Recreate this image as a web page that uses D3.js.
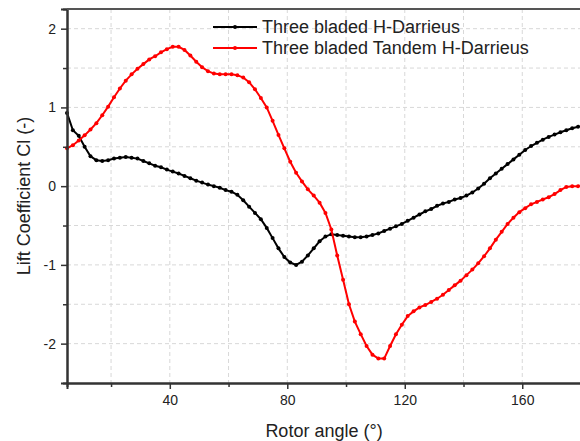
<!DOCTYPE html>
<html>
<head>
<meta charset="utf-8">
<script src="https://cdn.jsdelivr.net/npm/d3@7"></script>
<style>
  body { margin: 0; background: #fff; }
  text { font-family: Arial, "Liberation Sans", sans-serif; fill: #222; }
</style>
</head>
<body>
<div id="chart"></div>
<script>
// rotor angle samples (deg)
var angles = d3.range(5, 180, 2);

// lift coefficient, three bladed H-Darrieus
var clDarrieus = [
  0.93, 0.71, 0.64, 0.50, 0.38, 0.33, 0.32, 0.33, 0.35, 0.36,
  0.37, 0.36, 0.35, 0.32, 0.29, 0.26, 0.24, 0.21, 0.185, 0.16,
  0.13, 0.10, 0.07, 0.045, 0.02, 0.00, -0.02, -0.05, -0.07, -0.11,
  -0.18, -0.26, -0.34, -0.42, -0.53, -0.66, -0.79, -0.90, -0.97, -1.00,
  -0.96, -0.88, -0.79, -0.70, -0.64, -0.61, -0.62, -0.63, -0.64, -0.65,
  -0.65, -0.64, -0.62, -0.60, -0.57, -0.54, -0.51, -0.48, -0.44, -0.40,
  -0.36, -0.32, -0.29, -0.25, -0.22, -0.20, -0.17, -0.15, -0.12, -0.08,
  -0.03, 0.03, 0.10, 0.16, 0.22, 0.28, 0.34, 0.40, 0.46, 0.51,
  0.55, 0.59, 0.625, 0.655, 0.685, 0.71, 0.735, 0.755
];

// lift coefficient, three bladed tandem H-Darrieus
var clTandem = [
  0.48, 0.52, 0.58, 0.645, 0.72, 0.80, 0.90, 1.01, 1.13, 1.24,
  1.34, 1.42, 1.49, 1.55, 1.61, 1.65, 1.70, 1.74, 1.77, 1.77,
  1.73, 1.66, 1.58, 1.51, 1.46, 1.43, 1.42, 1.42, 1.42, 1.41,
  1.38, 1.32, 1.23, 1.12, 1.00, 0.83, 0.65, 0.48, 0.31, 0.17,
  0.06, -0.04, -0.12, -0.21, -0.34, -0.55, -0.88, -1.19, -1.50, -1.72,
  -1.88, -2.03, -2.14, -2.19, -2.19, -2.03, -1.88, -1.76, -1.65, -1.59,
  -1.54, -1.51, -1.47, -1.43, -1.38, -1.32, -1.26, -1.20, -1.13, -1.06,
  -0.98, -0.89, -0.79, -0.68, -0.58, -0.48, -0.40, -0.33, -0.28, -0.23,
  -0.20, -0.17, -0.14, -0.10, -0.05, -0.01, 0.00, 0.00
];

var xMajor = [40, 80, 120, 160];
var xMinor = [20, 60, 100, 140];
var yMajor = [-2, -1, 0, 1, 2];
var yMinor = [-1.5, -0.5, 0.5, 1.5];

var seriesNames = ["Three bladed H-Darrieus", "Three bladed Tandem H-Darrieus"];
var seriesColors = ["#000000", "#ff0000"];

var W = 580, H = 441;
var plotL = 67, plotT = 9, plotR = 581, plotB = 383;

var svg = d3.select("#chart").append("svg")
    .attr("width", W)
    .attr("height", H);

var x = d3.scaleLinear().domain([5, 180]).range([plotL, plotR]);
var y = d3.scaleLinear().domain([-2.5, 2.25]).range([plotB, plotT]);

// grid
var grid = svg.append("g").attr("stroke", "#d8d8d8").attr("stroke-dasharray", "4,3").attr("stroke-width", 1);
grid.selectAll(".gx").data(xMajor.concat(xMinor)).enter().append("line")
    .attr("x1", d => x(d)).attr("x2", d => x(d))
    .attr("y1", plotT).attr("y2", plotB);
grid.selectAll(".gy").data(yMajor.concat(yMinor)).enter().append("line")
    .attr("x1", plotL).attr("x2", plotR)
    .attr("y1", d => y(d)).attr("y2", d => y(d));

// series
var series = [clDarrieus, clTandem];
var line = d3.line()
    .x((d, i) => x(angles[i]))
    .y(d => y(d));

series.forEach(function(vals, k) {
    var g = svg.append("g");
    g.append("path")
        .datum(vals)
        .attr("fill", "none")
        .attr("stroke", seriesColors[k])
        .attr("stroke-width", 2)
        .attr("d", line);
    g.selectAll("circle").data(vals).enter().append("circle")
        .attr("cx", (d, i) => x(angles[i]))
        .attr("cy", d => y(d))
        .attr("r", 2)
        .attr("fill", seriesColors[k]);
});

// axes (plain hyphen for negatives, like the original)
var fmt = d => String(d);
var axisColor = "#333";
var xAxis = svg.append("g")
    .attr("transform", "translate(0," + plotB + ")")
    .call(d3.axisBottom(x).tickValues(xMajor).tickSize(6).tickPadding(6).tickFormat(fmt));
var xAxisMinor = svg.append("g")
    .attr("transform", "translate(0," + plotB + ")")
    .call(d3.axisBottom(x).tickValues(xMinor).tickSize(4).tickFormat(""));
var yAxis = svg.append("g")
    .attr("transform", "translate(" + plotL + ",0)")
    .call(d3.axisLeft(y).tickValues(yMajor).tickSize(6).tickPadding(5).tickFormat(fmt));
var yAxisMinor = svg.append("g")
    .attr("transform", "translate(" + plotL + ",0)")
    .call(d3.axisLeft(y).tickValues(yMinor).tickSize(4).tickFormat(""));

[xAxis, xAxisMinor, yAxis, yAxisMinor].forEach(function(a) {
    a.select(".domain").attr("stroke", axisColor).attr("stroke-width", 2);
    a.selectAll(".tick line").attr("stroke", axisColor).attr("stroke-width", 1.5);
    a.selectAll(".tick text").attr("fill", "#222").style("font-size", "14px")
        .style("font-family", "Arial, 'Liberation Sans', sans-serif");
});

// top frame
svg.append("line")
    .attr("x1", plotL).attr("x2", plotR)
    .attr("y1", y(2.25)).attr("y2", y(2.25))
    .attr("stroke", "#555").attr("stroke-width", 2);

// axis titles
svg.append("text")
    .attr("x", (plotL + plotR) / 2)
    .attr("y", 437)
    .attr("text-anchor", "middle")
    .style("font-size", "18px")
    .text("Rotor angle (°)");

svg.append("text")
    .attr("transform", "translate(30," + ((plotT + plotB) / 2) + ") rotate(-90)")
    .attr("text-anchor", "middle")
    .style("font-size", "18px")
    .text("Lift Coefficient Cl (-)");

// legend
var legend = svg.append("g");
seriesNames.forEach(function(name, k) {
    var ly = 27 + k * 21;
    legend.append("line")
        .attr("x1", 213).attr("x2", 257)
        .attr("y1", ly).attr("y2", ly)
        .attr("stroke", seriesColors[k]).attr("stroke-width", 2);
    legend.append("circle")
        .attr("cx", 235).attr("cy", ly).attr("r", 2)
        .attr("fill", seriesColors[k]);
    legend.append("text")
        .attr("x", 262).attr("y", ly + 6)
        .style("font-size", "18px")
        .text(name);
});
</script>
</body>
</html>
